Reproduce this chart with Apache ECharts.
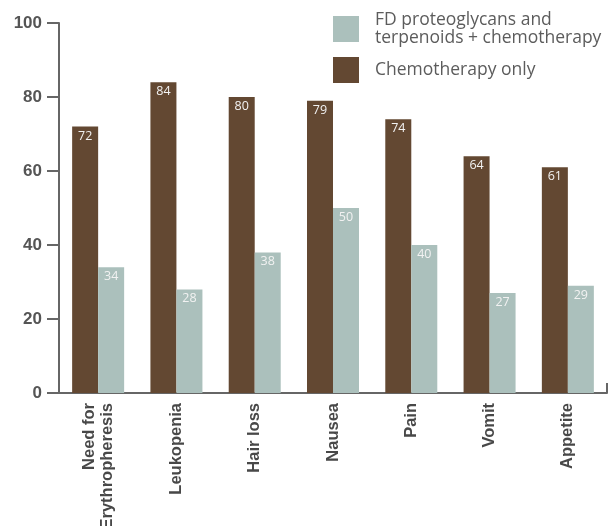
<!DOCTYPE html>
<html>
<head>
<meta charset="utf-8">
<script src="https://cdn.jsdelivr.net/npm/echarts@6/dist/echarts.min.js"></script>
<style>
  html, body { margin: 0; padding: 0; background: #fff; }
  #chart { width: 608px; height: 526px; }
</style>
</head>
<body>
<div id="chart"></div>
<script>
// Side effects per category, percent of patients
const categories = ['Need for\nErythropheresis', 'Leukopenia', 'Hair loss', 'Nausea', 'Pain', 'Vomit', 'Appetite'];
const chemoOnly = [72, 84, 80, 79, 74, 64, 61];
const fdCombined = [34, 28, 38, 50, 40, 27, 29];
const seriesNames = ['FD proteoglycans and\nterpenoids + chemotherapy', 'Chemotherapy only'];
const yTicks = [0, 20, 40, 60, 80, 100];

const TEXT_FONT = 'Open Sans';
const AXIS_FONT = 'Liberation Sans';
const BROWN = '#634832';
const TEAL = '#abc0bc';
const AXIS = '#666666';

const chart = echarts.init(document.getElementById('chart'), null, { renderer: 'canvas' });

const valueLabel = {
  show: true,
  position: 'insideTop',
  distance: 3,
  color: '#f2f2f2',
  fontFamily: TEXT_FONT,
  fontSize: 12.5
};

chart.setOption({
  animation: false,
  backgroundColor: '#ffffff',
  grid: { left: 59, right: 1, top: 23, bottom: 133, containLabel: false, outerBoundsMode: 'none' },
  legend: {
    orient: 'vertical',
    left: 328,
    top: 6,
    itemWidth: 26,
    itemHeight: 26,
    itemGap: 10,
    icon: 'rect',
    data: [seriesNames[0], seriesNames[1]],
    textStyle: { fontFamily: TEXT_FONT, fontSize: 17.5, color: '#5c5c5c', lineHeight: 18, padding: [0, 0, 0, 11] },
    selectedMode: false
  },
  xAxis: [
    {
      type: 'category',
      data: categories,
      axisLine: { show: true, lineStyle: { color: AXIS, width: 2 } },
      axisTick: { show: false },
      axisLabel: {
        rotate: 90,
        interval: 0,
        margin: 10,
        fontFamily: AXIS_FONT,
        fontWeight: 'bold',
        fontSize: 16.5,
        lineHeight: 18,
        color: '#484848'
      }
    },
    {
      // closing tick at the right end of the baseline
      type: 'value',
      position: 'bottom',
      min: 0,
      max: categories.length,
      axisLine: { show: false },
      axisLabel: { show: false },
      splitLine: { show: false },
      axisTick: {
        show: true,
        inside: true,
        length: 10,
        customValues: [categories.length],
        lineStyle: { color: AXIS, width: 2 }
      }
    }
  ],
  yAxis: {
    type: 'value',
    min: 0,
    max: 100,
    interval: 20,
    axisLine: { show: true, lineStyle: { color: AXIS, width: 2 } },
    axisTick: { show: true, length: 12, lineStyle: { color: AXIS, width: 2 } },
    splitLine: { show: false },
    axisLabel: {
      margin: 17,
      fontFamily: AXIS_FONT,
      fontWeight: 'bold',
      fontSize: 17,
      color: '#555555',
      formatter: v => (yTicks.includes(v) ? String(v) : '')
    }
  },
  series: [
    {
      name: seriesNames[1],
      type: 'bar',
      data: chemoOnly,
      barWidth: 26,
      barGap: '0%',
      itemStyle: { color: BROWN },
      label: valueLabel
    },
    {
      name: seriesNames[0],
      type: 'bar',
      data: fdCombined,
      barWidth: 26,
      barGap: '0%',
      itemStyle: { color: TEAL },
      label: valueLabel
    }
  ]
});
</script>
</body>
</html>
